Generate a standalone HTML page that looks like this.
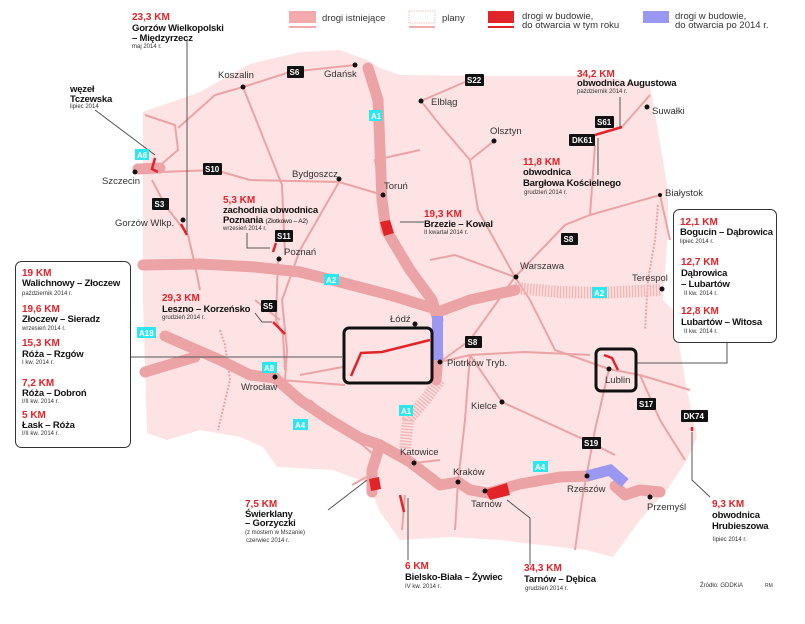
<!DOCTYPE html>
<html><head><meta charset="utf-8"><style>
html,body{margin:0;padding:0;background:#fff;width:805px;height:624px;overflow:hidden}
svg text{font-family:"Liberation Sans",sans-serif}
.r{fill:#e1232a;font-weight:bold;font-size:10px}
.b{fill:#111;font-weight:bold;font-size:9.5px;letter-spacing:-0.2px}
.s{fill:#333;font-size:6px}
.c{fill:#333;font-size:9.5px}
.bw{fill:#fff;font-weight:bold;font-size:8px}
</style></head><body>
<svg width="805" height="624" viewBox="0 0 805 624" xmlns="http://www.w3.org/2000/svg">
<path d="M143,112 L200,92 L250,64 L300,52 L340,50 L367,60 L380,68 L400,75 L500,76 L600,76 L650,85 L668,190 L668,230 L663,300 L673,310 L687,390 L697,437 L687,460 L667,490 L640,520 L613,557 L587,550 L540,545 L500,540 L450,537 L400,540 L380,512 L368,483 L333,470 L277,467 L263,447 L240,437 L200,430 L167,440 L147,433 L143,300 Z" fill="#fde3e3"/>
<g stroke="#eba3a6" stroke-width="2" fill="none">
<path d="M145,115 L175,125 L178,150 L157,168"/>
<path d="M178,128 L215,95 L243,87 L290,72 L355,65"/>
<path d="M243,87 L282,185 L285,255"/>
<path d="M160,172 L215,170 L250,180 L339,182 L383,195"/>
<path d="M152,180 L165,205 L188,235 L195,265 L200,290"/>
<path d="M339,182 L300,250 L282,300 L287,350 L285,380"/>
<path d="M278,258 L276,320 L283,335 L285,370"/>
<path d="M383,195 L375,160 L420,150"/>
<path d="M421,101 L465,82"/>
<path d="M421,101 L440,125 L470,160 L494,141"/>
<path d="M470,160 L478,210 L515,277"/>
<path d="M515,277 L565,225 L590,215 L660,195"/>
<path d="M590,215 L595,145"/>
<path d="M622,127 L650,95"/>
<path d="M515,277 L455,255 L430,260"/>
<path d="M515,277 L470,340 L440,362"/>
<path d="M515,277 L530,300 L555,350 L609,369 L640,375 L690,390"/>
<path d="M609,369 L595,430 L582,500 L575,550"/>
<path d="M440,362 L470,355 L525,352 L590,355"/>
<path d="M470,355 L502,402 L585,440 L615,455"/>
<path d="M470,355 L465,420 L458,482 L455,530"/>
<path d="M640,375 L660,420 L685,460"/>
<path d="M440,362 L380,360 L300,375"/>
<path d="M280,380 L345,385"/>
<path d="M310,400 L345,430 L380,460"/>
<path d="M414,463 L440,460"/>
<path d="M405,495 L402,530"/>
<path d="M370,475 L352,485"/>
<path d="M660,195 L670,240"/>
<path d="M255,300 L280,320"/>
</g>
<g stroke="#eba3a6" stroke-width="2" fill="none" stroke-dasharray="2 1.5">
<path d="M658,205 L655,240 L648,280 L645,330"/>
<path d="M220,330 L225,345 L230,380 L218,430"/>
</g>
<g stroke="#f2b7b9" stroke-width="12" fill="none" stroke-dasharray="1.5 1.5">
<path d="M515,288 L560,292 L600,293 L660,290"/>
<path d="M440,380 L425,400 L408,420 L405,450"/>
</g>
<g stroke="#eba3a6" stroke-width="11" fill="none" stroke-linejoin="round" stroke-linecap="round">
<path d="M368,68 L378,100 L380,150 L382,200 L386,230 L410,270 L432,300 L438,320"/>
<path d="M143,265 L200,264 L255,267 L300,272 L340,282 L390,295 L432,308"/>
<path d="M438,312 L470,300 L515,290"/>
<path d="M438,355 L436,380"/>
<path d="M165,336 L220,360 L250,375 L275,378 L300,400 L330,420 L360,438 L380,445 L410,462 L440,485 L458,482 L470,490 L488,493 L520,484 L560,477 L587,476"/>
<path d="M615,486 L625,495 L640,490 L660,492"/>
<path d="M145,372 L195,357"/>
<path d="M138,169 L160,168"/>
<path d="M380,445 L372,470 L372,492"/>
<path d="M380,445 L398,455"/>
</g>
<path d="M587,476 L610,470 L625,483" stroke="#9b98f2" stroke-width="11" fill="none"/>
<rect x="432" y="316" width="11" height="44" fill="#9b98f2"/>
<g fill="none" stroke="#e1232a" stroke-width="2.5">
<path d="M155,158 L152,169 L158,172"/>
<path d="M181,224 L187,235"/>
<path d="M273,252 L276,243"/>
<path d="M273,322 L285,334"/>
<path d="M595,135 L622,127"/>
<path d="M400,495 L404,512"/>
<path d="M604,355 L612,358 L618,370"/>
<path d="M692,427 L692,431"/>
</g>
<polygon points="380,222 390,220 394,233 384,236" fill="#e1232a"/>
<polygon points="485,490 507,483 510,495 490,500" fill="#e1232a"/>
<polygon points="369,479 379,477 381,489 371,491" fill="#e1232a"/>
<rect x="289" y="11" width="27" height="12" fill="#f2aaac"/><rect x="289" y="26" width="27" height="2" fill="#f2aaac"/>
<text class="c" x="322" y="21">drogi istniejące</text>
<rect x="409" y="11" width="26" height="12" fill="none" stroke="#f2aaac" stroke-width="1" stroke-dasharray="1 1.3"/>
<rect x="409" y="26" width="26" height="2" fill="#f2aaac"/>
<text class="c" x="442" y="21">plany</text>
<rect x="488" y="11" width="26" height="12" fill="#e1232a"/><rect x="488" y="26" width="26" height="2" fill="#e1232a"/>
<text class="c" x="522" y="19">drogi w budowie,</text><text class="c" x="522" y="28">do otwarcia w tym roku</text>
<rect x="643" y="11" width="26" height="12" fill="#9b98f2"/>
<text class="c" x="675" y="19">drogi  w budowie,</text><text class="c" x="675" y="28">do otwarcia po 2014 r.</text>
<g stroke="#555" stroke-width="1" fill="none">
<path d="M187,40 L187,232"/>
<path d="M95,110 L155,155"/>
<path d="M247,233 L247,248 L270,248"/>
<path d="M255,313 L262,322 L272,322"/>
<path d="M400,222 L424,222"/>
<path d="M620,97 L620,127"/>
<path d="M598,138 L598,175"/>
<path d="M130,357 L342,357"/>
<path d="M727,342 L727,363 L637,363"/>
<path d="M692,432 L692,480 L710,497"/>
<path d="M328,510 L367,480"/>
<path d="M408,498 L408,560"/>
<path d="M507,500 L530,518 L530,565"/>
</g>
<rect x="15.5" y="261.5" width="115" height="186" rx="6" fill="#fff" stroke="#333" stroke-width="1"/>
<rect x="673.5" y="209.5" width="103" height="133" rx="6" fill="#fff" stroke="#333" stroke-width="1"/>
<rect x="344" y="328" width="88" height="55" rx="5" fill="#fde3e3" stroke="#111" stroke-width="3"/>
<path d="M351,376 L361,353 L382,352 L430,340" stroke="#e1232a" stroke-width="2.5" fill="none"/>
<rect x="596" y="349" width="40" height="42" rx="5" fill="none" stroke="#111" stroke-width="3"/>
<g fill="#111">
<circle cx="243" cy="87" r="2.5"/><circle cx="355" cy="65" r="2.5"/><circle cx="421" cy="101" r="2.5"/>
<circle cx="494" cy="141" r="2.5"/><circle cx="135" cy="172" r="2.5"/><circle cx="339" cy="179" r="2.5"/>
<circle cx="383" cy="195" r="2.5"/><circle cx="183" cy="220" r="2.5"/><circle cx="279" cy="259" r="2.5"/>
<circle cx="647" cy="107" r="2.5"/><circle cx="660" cy="195" r="2"/><circle cx="516" cy="277" r="2.5"/>
<circle cx="662" cy="289" r="2.5"/><circle cx="275" cy="377" r="2.5"/><circle cx="415" cy="324" r="2.5"/>
<circle cx="440" cy="362" r="2.5"/><circle cx="502" cy="402" r="2.5"/><circle cx="414" cy="463" r="2.5"/>
<circle cx="458" cy="482" r="2.5"/><circle cx="485" cy="491" r="2.5"/><circle cx="587" cy="476" r="2.5"/>
<circle cx="650" cy="497" r="2.5"/><circle cx="609" cy="369" r="2.5"/>
</g>
<g class="c">
<text x="218" y="78">Koszalin</text><text x="324" y="77">Gdańsk</text><text x="431" y="105">Elbląg</text>
<text x="490" y="134">Olsztyn</text><text x="102" y="184">Szczecin</text><text x="292" y="177">Bydgoszcz</text>
<text x="384" y="189">Toruń</text><text x="115" y="226">Gorzów Wlkp.</text><text x="284" y="255">Poznań</text>
<text x="652" y="114">Suwałki</text><text x="665" y="196">Białystok</text><text x="520" y="269">Warszawa</text>
<text x="632" y="281">Terespol</text><text x="241" y="390">Wrocław</text><text x="390" y="322">Łódź</text>
<text x="447" y="366">Piotrków Tryb.</text><text x="471" y="409">Kielce</text><text x="400" y="455">Katowice</text>
<text x="453" y="475">Kraków</text><text x="471" y="507">Tarnów</text><text x="567" y="492">Rzeszów</text>
<text x="647" y="510">Przemyśl</text><text x="605" y="383">Lublin</text>
</g>
<g>
<rect x="287" y="66" width="17" height="12" rx="1" fill="#111"/><text class="bw" x="289.5" y="75">S6</text>
<rect x="465" y="74" width="19" height="12" rx="1" fill="#111"/><text class="bw" x="467" y="83">S22</text>
<rect x="203" y="163" width="19" height="12" rx="1" fill="#111"/><text class="bw" x="205" y="172">S10</text>
<rect x="152" y="198" width="17" height="12" rx="1" fill="#111"/><text class="bw" x="154.5" y="207">S3</text>
<rect x="275" y="230" width="18" height="12" rx="1" fill="#111"/><text class="bw" x="277" y="239">S11</text>
<rect x="595" y="116" width="19" height="12" rx="1" fill="#111"/><text class="bw" x="597" y="125">S61</text>
<rect x="569" y="134" width="26" height="12" rx="1" fill="#111"/><text class="bw" x="572" y="143">DK61</text>
<rect x="561" y="233" width="17" height="12" rx="1" fill="#111"/><text class="bw" x="563.5" y="242">S8</text>
<rect x="261" y="300" width="16" height="12" rx="1" fill="#111"/><text class="bw" x="263" y="309">S5</text>
<rect x="465" y="336" width="17" height="12" rx="1" fill="#111"/><text class="bw" x="467.5" y="345">S8</text>
<rect x="637" y="398" width="19" height="12" rx="1" fill="#111"/><text class="bw" x="639" y="407">S17</text>
<rect x="681" y="410" width="27" height="12" rx="1" fill="#111"/><text class="bw" x="683.5" y="419">DK74</text>
<rect x="582" y="437" width="19" height="12" rx="1" fill="#111"/><text class="bw" x="584" y="446">S19</text>
</g>
<g>
<rect x="369" y="110" width="13" height="11" fill="#2ee6ee"/><text class="bw" x="371" y="119">A1</text>
<rect x="135" y="149" width="14" height="11" fill="#2ee6ee"/><text class="bw" x="137" y="158">A6</text>
<rect x="324" y="274" width="15" height="11" fill="#2ee6ee"/><text class="bw" x="326" y="283">A2</text>
<rect x="592" y="287" width="15" height="11" fill="#2ee6ee"/><text class="bw" x="594" y="296">A2</text>
<rect x="137" y="327" width="19" height="11" fill="#2ee6ee"/><text class="bw" x="139" y="336">A18</text>
<rect x="262" y="362" width="15" height="11" fill="#2ee6ee"/><text class="bw" x="264" y="371">A8</text>
<rect x="293" y="419" width="15" height="11" fill="#2ee6ee"/><text class="bw" x="295" y="428">A4</text>
<rect x="399" y="405" width="14" height="11" fill="#2ee6ee"/><text class="bw" x="401" y="414">A1</text>
<rect x="533" y="461" width="15" height="11" fill="#2ee6ee"/><text class="bw" x="535" y="470">A4</text>
</g>
<text class="r" x="132" y="20">23,3 KM</text><text class="b" x="132" y="31">Gorzów Wielkopolski</text><text class="b" x="132" y="41">– Międzyrzecz</text><text class="s" x="132" y="48">maj 2014 r.</text>
<text class="b" x="70" y="92">węzeł</text><text class="b" x="70" y="102">Tczewska</text><text class="s" x="70" y="108">lipiec 2014</text>
<text class="r" x="223" y="203">5,3 KM</text><text class="b" x="223" y="213">zachodnia obwodnica</text><text class="b" x="223" y="223">Poznania <tspan style="font-weight:normal;font-size:6.5px">(Złotkowo – A2)</tspan></text><text class="s" x="223" y="230">wrzesień 2014 r.</text>
<text class="r" x="424" y="217">19,3 KM</text><text class="b" x="424" y="227">Brzezie – Kowal</text><text class="s" x="424" y="234">II kwartał 2014 r.</text>
<text class="r" x="577" y="77">34,2 KM</text><text class="b" x="577" y="86">obwodnica Augustowa</text><text class="s" x="577" y="93">październik 2014 r.</text>
<text class="r" x="523" y="165">11,8 KM</text><text class="b" x="523" y="175">obwodnica</text><text class="b" x="523" y="186">Bargłowa Kościelnego</text><text class="s" x="524" y="194">grudzień 2014 r.</text>
<text class="r" x="680" y="225">12,1 KM</text><text class="b" x="680" y="235">Bogucin – Dąbrowica</text><text class="s" x="680" y="243">lipiec 2014 r.</text>
<text class="r" x="681" y="265">12,7 KM</text><text class="b" x="681" y="276">Dąbrowica</text><text class="b" x="681" y="287">– Lubartów</text><text class="s" x="684" y="295">II kw. 2014 r.</text>
<text class="r" x="681" y="314">12,8 KM</text><text class="b" x="681" y="325">Lubartów – Witosa</text><text class="s" x="684" y="333">II kw. 2014 r.</text>
<text class="r" x="22" y="276">19 KM</text><text class="b" x="22" y="286">Walichnowy – Złoczew</text><text class="s" x="22" y="295">październik 2014 r.</text>
<text class="r" x="22" y="312">19,6 KM</text><text class="b" x="22" y="322">Złoczew – Sieradz</text><text class="s" x="22" y="330">wrzesień 2014 r.</text>
<text class="r" x="22" y="346">15,3 KM</text><text class="b" x="22" y="357">Róża – Rzgów</text><text class="s" x="22" y="364">I kw. 2014 r.</text>
<text class="r" x="22" y="386">7,2 KM</text><text class="b" x="22" y="396">Róża – Dobroń</text><text class="s" x="22" y="403">I/II kw. 2014 r.</text>
<text class="r" x="22" y="418">5 KM</text><text class="b" x="22" y="428">Łask – Róża</text><text class="s" x="22" y="435">I/II kw. 2014 r.</text>
<text class="r" x="162" y="301">29,3 KM</text><text class="b" x="162" y="312">Leszno – Korzeńsko</text><text class="s" x="162" y="319">grudzień 2014 r.</text>
<text class="r" x="245" y="507">7,5 KM</text><text class="b" x="245" y="517">Świerklany</text><text class="b" x="245" y="526">– Gorzyczki</text><text class="s" x="245" y="534">(z mostem w Mszanie)</text><text class="s" x="246" y="542">czerwiec 2014 r.</text>
<text class="r" x="405" y="569">6 KM</text><text class="b" x="405" y="580">Bielsko-Biała – Żywiec</text><text class="s" x="405" y="588">IV kw. 2014 r.</text>
<text class="r" x="524" y="571">34,3 KM</text><text class="b" x="524" y="582">Tarnów – Dębica</text><text class="s" x="525" y="590">grudzień 2014 r.</text>
<text class="r" x="712" y="507">9,3 KM</text><text class="b" x="712" y="518">obwodnica</text><text class="b" x="712" y="529">Hrubieszowa</text><text class="s" x="713" y="541">lipiec 2014 r.</text>
<text class="s" x="700" y="587">Źródło: GDDKiA</text><text class="s" x="765" y="587" style="font-size:5px">RM</text>
</svg>
</body></html>
